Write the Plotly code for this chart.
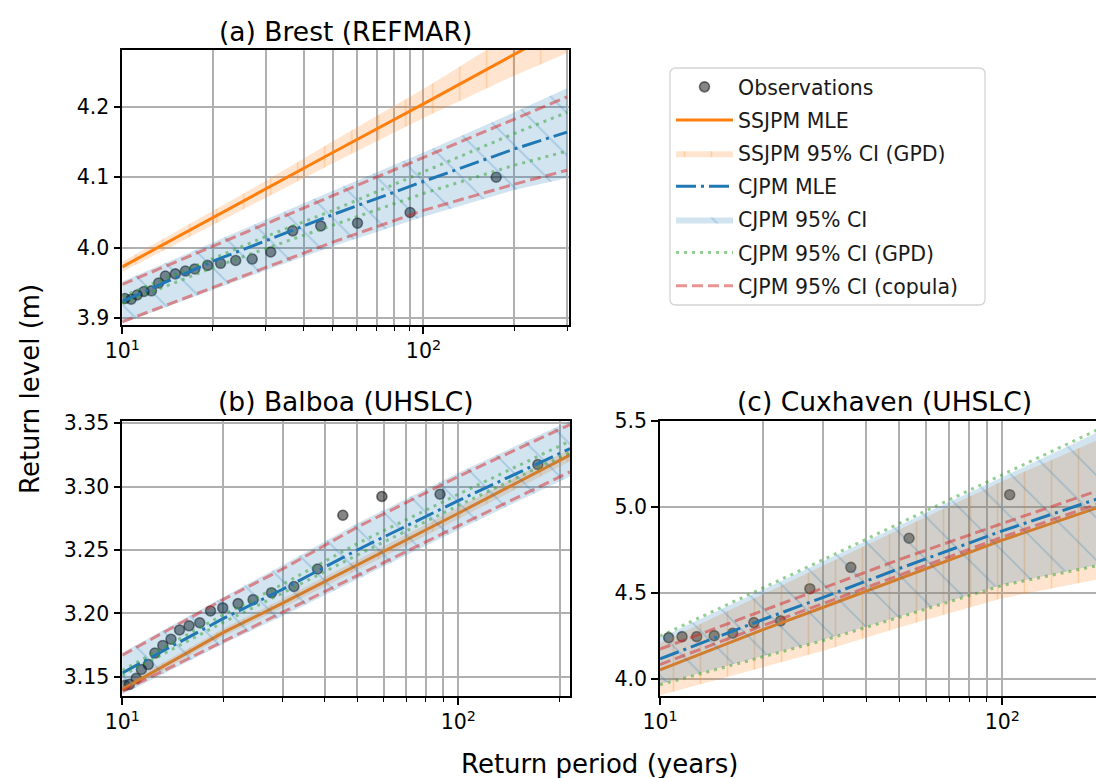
import numpy as np
import plotly.graph_objects as go

# ---------------- data ----------------
# (a) Brest (REFMAR)
a_T = [10, 20, 30, 50, 100, 200, 300]
a_ss_mle = [3.973, 4.043, 4.083, 4.135, 4.204, 4.274, 4.315]
a_ss_lo = [3.966, 4.033, 4.071, 4.120, 4.184, 4.244, 4.276]
a_ss_hi = [3.980, 4.053, 4.095, 4.151, 4.225, 4.305, 4.355]
a_cj_mle = [3.924, 3.981, 4.010, 4.047, 4.094, 4.140, 4.164]
a_cj_lo = [3.893, 3.941, 3.968, 4.002, 4.044, 4.082, 4.099]
a_cj_hi = [3.952, 4.007, 4.040, 4.081, 4.135, 4.192, 4.226]
a_gpd_lo = [3.921, 3.972, 3.999, 4.032, 4.077, 4.117, 4.137]
a_gpd_hi = [3.931, 3.985, 4.016, 4.053, 4.107, 4.162, 4.192]
a_cop_lo = [3.895, 3.944, 3.972, 4.008, 4.053, 4.090, 4.110]
a_cop_hi = [3.948, 4.002, 4.034, 4.074, 4.128, 4.182, 4.214]
a_obs_T = [10.2, 10.7, 11.2, 11.8, 12.5, 13.2, 13.9, 15.0, 16.2, 17.4, 19.2,
           21.2, 23.8, 27.0, 31.1, 36.8, 45.6, 60.4, 90.3, 174.4]
a_obs_L = [3.928, 3.927, 3.933, 3.938, 3.939, 3.950, 3.960, 3.963, 3.967, 3.970,
           3.975, 3.978, 3.982, 3.984, 3.994, 4.024, 4.031, 4.035, 4.050, 4.100]

# (b) Balboa (UHSLC)
b_T = [10, 20, 30, 50, 100, 215]
b_ss_mle = [3.140, 3.185, 3.208, 3.238, 3.279, 3.325]
b_ss_lo = [3.137, 3.182, 3.2045, 3.234, 3.2745, 3.320]
b_ss_hi = [3.143, 3.188, 3.2115, 3.242, 3.2835, 3.330]
b_cj_mle = [3.153, 3.196, 3.219, 3.250, 3.289, 3.330]
b_cj_lo = [3.136, 3.176, 3.198, 3.227, 3.266, 3.308]
b_cj_hi = [3.169, 3.213, 3.238, 3.271, 3.311, 3.352]
b_gpd_lo = [3.151, 3.193, 3.216, 3.246, 3.285, 3.327]
b_gpd_hi = [3.155, 3.199, 3.223, 3.255, 3.294, 3.336]
b_cop_lo = [3.1387, 3.178, 3.201, 3.230, 3.269, 3.3117]
b_cop_hi = [3.167, 3.211, 3.235, 3.268, 3.308, 3.349]
b_obs_T = [10.2, 10.5, 11.0, 11.4, 11.95, 12.5, 13.2, 13.96, 14.8, 15.8, 17.0,
           18.3, 19.9, 22.1, 24.5, 27.8, 32.4, 38.1, 45.3, 59.2, 88.2, 172.3]
b_obs_L = [3.1432, 3.1440, 3.1487, 3.1557, 3.1596, 3.1687, 3.1747, 3.1796, 3.1869,
           3.1902, 3.1926, 3.2019, 3.2043, 3.2077, 3.2108, 3.2163, 3.2212, 3.2350,
           3.2774, 3.2922, 3.2940, 3.3174]

# (c) Cuxhaven (UHSLC)
c_T = [10, 20, 30, 50, 100, 190]
c_ss_mle = [4.055, 4.288, 4.418, 4.585, 4.808, 4.997]
c_ss_lo = [3.907, 4.072, 4.165, 4.300, 4.470, 4.580]
c_ss_hi = [4.210, 4.495, 4.660, 4.870, 5.150, 5.390]
c_cj_mle = [4.118, 4.347, 4.476, 4.643, 4.862, 5.048]
c_cj_lo = [3.972, 4.135, 4.229, 4.364, 4.549, 4.664]
c_cj_hi = [4.240, 4.522, 4.686, 4.895, 5.178, 5.435]
c_gpd_lo = [3.968, 4.131, 4.225, 4.360, 4.545, 4.660]
c_gpd_hi = [4.250, 4.530, 4.695, 4.905, 5.190, 5.450]
c_cop_lo = [4.085, 4.312, 4.440, 4.605, 4.826, 5.018]
c_cop_hi = [4.175, 4.400, 4.530, 4.695, 4.905, 5.095]
c_obs_T = [10.6, 11.6, 12.8, 14.4, 16.3, 18.8, 22.5, 27.4, 36.1, 53.4, 105.1]
c_obs_L = [4.2415, 4.2474, 4.2474, 4.253, 4.267, 4.329, 4.339, 4.526, 4.650, 4.819, 5.072]

titles = ["(a) Brest (REFMAR)", "(b) Balboa (UHSLC)", "(c) Cuxhaven (UHSLC)"]
x_tickvals = [10, 100]
x_ticktext = ["10<sup>1</sup>", "10<sup>2</sup>"]
legend_names = ["Observations", "SSJPM MLE", "SSJPM 95% CI (GPD)", "CJPM MLE",
                "CJPM 95% CI", "CJPM 95% CI (GPD)", "CJPM 95% CI (copula)"]

# ---------------- styling ----------------
W, H = 1096, 778
FONT = "DejaVu Sans"
ORANGE = "#ff7f0e"
BLUE = "#1f77b4"
GREEN_A = "rgba(44,160,44,0.5)"
RED_A = "rgba(214,39,40,0.5)"
GRID = "#b0b0b0"


def px_x(p):
    return p / W


def px_y(p):
    return 1 - p / H


panels = [
    dict(T=a_T, ss=a_ss_mle, ssl=a_ss_lo, ssh=a_ss_hi, cj=a_cj_mle, cjl=a_cj_lo, cjh=a_cj_hi,
         gl=a_gpd_lo, gh=a_gpd_hi, rl=a_cop_lo, rh=a_cop_hi, oT=a_obs_T, oL=a_obs_L,
         dom_x=[px_x(122.3), px_x(569.3)], dom_y=[px_y(325), px_y(50)],
         xr=[1, np.log10(305)], yr=[3.8905, 4.2804], dtick=0.1, fmt=".1f",
         minor=[20, 30, 40, 50, 60, 70, 80, 90, 200, 300], ymirror=True),
    dict(T=b_T, ss=b_ss_mle, ssl=b_ss_lo, ssh=b_ss_hi, cj=b_cj_mle, cjl=b_cj_lo, cjh=b_cj_hi,
         gl=b_gpd_lo, gh=b_gpd_hi, rl=b_cop_lo, rh=b_cop_hi, oT=b_obs_T, oL=b_obs_L,
         dom_x=[px_x(122.3), px_x(570)], dom_y=[px_y(696), px_y(420.7)],
         xr=[1, np.log10(214.8)], yr=[3.1348, 3.352], dtick=0.05, fmt=".2f",
         minor=[20, 30, 40, 50, 60, 70, 80, 90, 200], ymirror=True),
    dict(T=c_T, ss=c_ss_mle, ssl=c_ss_lo, ssh=c_ss_hi, cj=c_cj_mle, cjl=c_cj_lo, cjh=c_cj_hi,
         gl=c_gpd_lo, gh=c_gpd_hi, rl=c_cop_lo, rh=c_cop_hi, oT=c_obs_T, oL=c_obs_L,
         dom_x=[px_x(660), 1.0], dom_y=[px_y(696), px_y(420.7)],
         xr=[1, 1 + (1096 - 660) / 342.3], yr=[3.9025, 5.502], dtick=0.5, fmt=".1f",
         minor=[20, 30, 40, 50, 60, 70, 80, 90], ymirror=False),
]

fig = go.Figure()

for i, p in enumerate(panels):
    xa = "x" if i == 0 else f"x{i+1}"
    ya = "y" if i == 0 else f"y{i+1}"
    show = i == 0
    common = dict(xaxis=xa, yaxis=ya)

    # observations
    fig.add_trace(go.Scatter(
        x=p["oT"], y=p["oL"], mode="markers", name=legend_names[0],
        legendgroup="obs", showlegend=show,
        marker=dict(size=10, color="rgba(0,0,0,0.48)",
                    line=dict(color="rgba(0,0,0,0.5)", width=1.6)), **common))
    # SSJPM MLE
    fig.add_trace(go.Scatter(
        x=p["T"], y=p["ss"], mode="lines", name=legend_names[1],
        legendgroup="ssmle", showlegend=show,
        line=dict(color=ORANGE, width=3), **common))
    # SSJPM CI band
    fig.add_trace(go.Scatter(
        x=p["T"], y=p["ssl"], mode="lines", line=dict(width=0),
        legendgroup="ssci", showlegend=False, hoverinfo="skip", **common))
    fig.add_trace(go.Scatter(
        x=p["T"], y=p["ssh"], mode="lines", line=dict(width=0), name=legend_names[2],
        legendgroup="ssci", showlegend=show, fill="tonexty",
        fillcolor="rgba(255,127,14,0.2)",
        fillpattern=dict(shape="|", size=27, solidity=0.06,
                         fgcolor="rgba(255,127,14,0.25)",
                         bgcolor="rgba(255,127,14,0.2)", fillmode="replace"),
        **common))
    # CJPM MLE
    fig.add_trace(go.Scatter(
        x=p["T"], y=p["cj"], mode="lines", name=legend_names[3],
        legendgroup="cjmle", showlegend=show,
        line=dict(color=BLUE, width=3, dash="20px,5px,3px,5px"), **common))
    # CJPM CI band
    fig.add_trace(go.Scatter(
        x=p["T"], y=p["cjl"], mode="lines", line=dict(width=0),
        legendgroup="cjci", showlegend=False, hoverinfo="skip", **common))
    fig.add_trace(go.Scatter(
        x=p["T"], y=p["cjh"], mode="lines", line=dict(width=0), name=legend_names[4],
        legendgroup="cjci", showlegend=show, fill="tonexty",
        fillcolor="rgba(31,119,180,0.2)",
        fillpattern=dict(shape="\\", size=30, solidity=0.06,
                         fgcolor="rgba(31,119,180,0.25)",
                         bgcolor="rgba(31,119,180,0.2)", fillmode="replace"),
        **common))
    # CJPM GPD
    for k, key in enumerate(["gl", "gh"]):
        fig.add_trace(go.Scatter(
            x=p["T"], y=p[key], mode="lines", name=legend_names[5],
            legendgroup="gpd", showlegend=show and k == 0,
            line=dict(color=GREEN_A, width=3, dash="3px,5px"), **common))
    # CJPM copula
    for k, key in enumerate(["rl", "rh"]):
        fig.add_trace(go.Scatter(
            x=p["T"], y=p[key], mode="lines", name=legend_names[6],
            legendgroup="cop", showlegend=show and k == 0,
            line=dict(color=RED_A, width=3, dash="11px,5px"), **common))

    xkey = "xaxis" if i == 0 else f"xaxis{i+1}"
    ykey = "yaxis" if i == 0 else f"yaxis{i+1}"
    fig.layout[xkey] = dict(
        domain=p["dom_x"], anchor=ya, type="log", range=p["xr"], automargin=False,
        showline=True, linecolor="black", linewidth=1.6, mirror=True,
        ticks="outside", ticklen=7, tickwidth=1.6, tickcolor="black",
        tickvals=x_tickvals, ticktext=x_ticktext,
        tickfont=dict(family=FONT, size=20.5, color="black"),
        showgrid=True, gridcolor=GRID, gridwidth=1.5, zeroline=False,
        minor=dict(tickvals=p["minor"], ticks="outside", ticklen=4, tickwidth=1.3,
                   tickcolor="black", showgrid=True, gridcolor=GRID, gridwidth=1.5),
    )
    fig.layout[ykey] = dict(
        domain=p["dom_y"], anchor=xa, range=p["yr"], dtick=p["dtick"], tick0=0,
        tickformat=p["fmt"], automargin=False,
        showline=True, linecolor="black", linewidth=1.6, mirror=p["ymirror"],
        ticks="outside", ticklen=7, tickwidth=1.6, tickcolor="black",
        tickfont=dict(family=FONT, size=20.5, color="black"),
        showgrid=True, gridcolor=GRID, gridwidth=1.5, zeroline=False,
    )

annotations = []
title_pos = [(345.8, 31), (346, 401), (884, 401)]
for t, (cx, cy) in zip(titles, title_pos):
    annotations.append(dict(text=t, x=px_x(cx), y=px_y(cy), xref="paper", yref="paper",
                            xanchor="center", yanchor="middle", showarrow=False,
                            font=dict(family=FONT, size=26.5, color="black")))
annotations.append(dict(text="Return level (m)", x=px_x(30), y=px_y(389), xref="paper",
                        yref="paper", xanchor="center", yanchor="middle", showarrow=False,
                        textangle=-90, font=dict(family=FONT, size=26, color="black")))
annotations.append(dict(text="Return period (years)", x=px_x(599), y=px_y(764), xref="paper",
                        yref="paper", xanchor="center", yanchor="middle", showarrow=False,
                        font=dict(family=FONT, size=26, color="black")))

# legend frame (rounded box like matplotlib's)
x0, x1, y0, y1, r = px_x(670), px_x(985), px_y(305), px_y(68), 6
rx, ry = r / W, r / H
frame_path = (f"M{x0+rx},{y1} L{x1-rx},{y1} Q{x1},{y1} {x1},{y1-ry} "
              f"L{x1},{y0+ry} Q{x1},{y0} {x1-rx},{y0} L{x0+rx},{y0} "
              f"Q{x0},{y0} {x0},{y0+ry} L{x0},{y1-ry} Q{x0},{y1} {x0+rx},{y1} Z")

fig.update_layout(
    width=W, height=H, margin=dict(l=0, r=0, t=0, b=0, autoexpand=False),
    paper_bgcolor="white", plot_bgcolor="white",
    annotations=annotations,
    shapes=[dict(type="path", path=frame_path, xref="paper", yref="paper",
                 line=dict(color="#d4d4d4", width=1.3), fillcolor="white", layer="above")],
    legend=dict(x=px_x(671), y=px_y(67), xanchor="left", yanchor="top",
                bgcolor="rgba(0,0,0,0)", borderwidth=0,
                font=dict(family=FONT, size=20.5, color="#1a1a1a"),
                itemwidth=57, tracegroupgap=3.5, traceorder="grouped"),
    hovermode=False,
)

fig.write_html("out.html", config={"displayModeBar": False},
               post_script="document.body.style.margin='0px';")
